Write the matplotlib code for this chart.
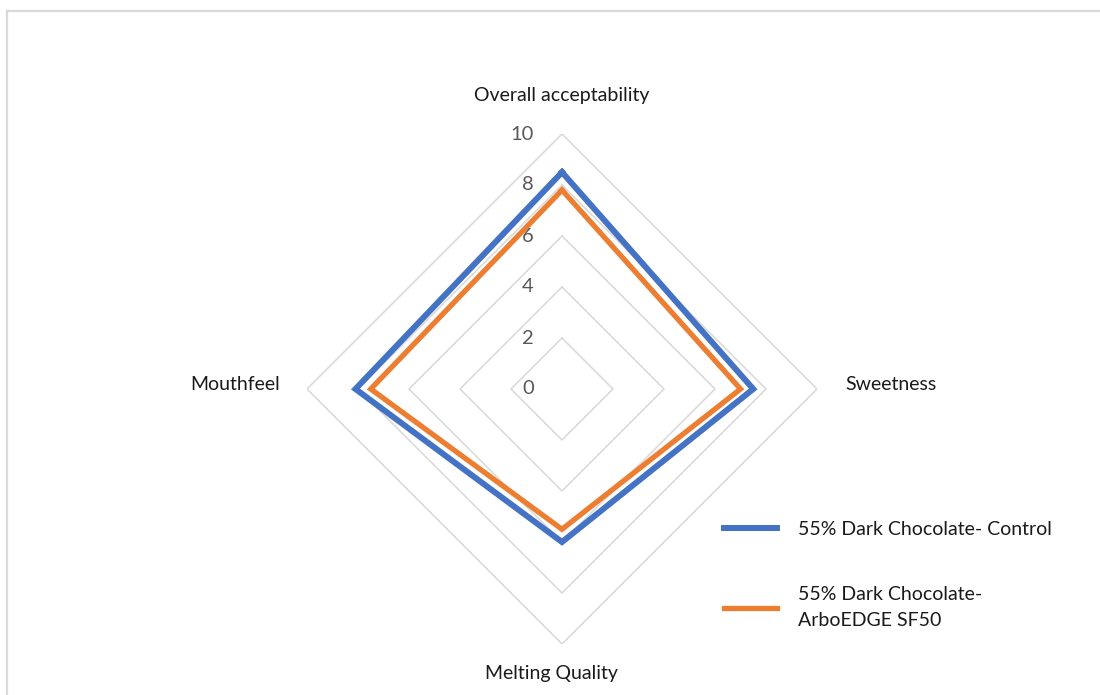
import numpy as np
import matplotlib.pyplot as plt
from matplotlib.lines import Line2D

plt.rcParams['font.family'] = ['Lato', 'DejaVu Sans']

# sensory scores (0-10 scale)
categories = ['Overall acceptability', 'Sweetness', 'Melting Quality', 'Mouthfeel']
control = [8.5, 7.5, 6.0, 8.1]
arboedge = [7.8, 7.0, 5.5, 7.5]
series_names = ['55% Dark Chocolate- Control', '55% Dark Chocolate-\nArboEDGE SF50']
ticks = [0, 2, 4, 6, 8, 10]

blue = '#4472C4'
orange = '#ED7D31'
grid_col = '#d9d9d9'

fig = plt.figure(figsize=(11, 6.95), dpi=100)
ax = fig.add_axes([307 / 1100, 1 - 644 / 695, 510 / 1100, 510 / 695], projection='polar')
ax.set_theta_zero_location('N')
ax.set_theta_direction(-1)
ax.set_ylim(0, 10)
ax.grid(False)
ax.set_xticks([])
ax.set_yticks([])
ax.spines['polar'].set_visible(False)

angles = np.linspace(0, 2 * np.pi, len(categories), endpoint=False)
closed = np.concatenate([angles, angles[:1]])

# diamond-shaped grid rings
for t in ticks[1:]:
    ax.plot(closed, [t] * len(closed), color=grid_col, lw=1.1, zorder=1)

# series
ax.plot(closed, control + control[:1], color=blue, lw=4.3, zorder=3,
        solid_joinstyle='miter', label=series_names[0])
ax.plot(closed, arboedge + arboedge[:1], color=orange, lw=3.8, zorder=3,
        solid_joinstyle='miter', label=series_names[1])

# radial tick labels
for t in ticks:
    ax.annotate(str(t), xy=(0, t), xytext=(-28, 0), textcoords='offset pixels',
                ha='right', va='center', fontsize=14.5, color='#595959')

# category labels
offsets = [(0, 38, 'center'), (28, 5, 'left'), (-11, -29, 'center'), (-27, 5, 'right')]
for ang, name, (dx, dy, ha) in zip(angles, categories, offsets):
    ax.annotate(name, xy=(ang, 10), xytext=(dx, dy), textcoords='offset pixels',
                ha=ha, va='center', fontsize=14, color='#1a1a1a')

leg = fig.legend(loc='upper left', bbox_to_anchor=(724 / 1100, 1 - 521 / 695),
                 frameon=False, fontsize=14, handlelength=2.75, handletextpad=1.05,
                 labelspacing=2.45, borderpad=0, borderaxespad=0)
for txt in leg.get_texts():
    txt.set_linespacing(1.7)
    txt.set_color('#1a1a1a')

# light frame on top and left edges
fig.add_artist(Line2D([7 / 1100, 1], [1 - 10.5 / 695] * 2, transform=fig.transFigure,
                      color=grid_col, lw=1.6))
fig.add_artist(Line2D([7 / 1100] * 2, [0, 1 - 10.5 / 695], transform=fig.transFigure,
                      color=grid_col, lw=1.6))

fig.savefig('out.png', dpi=100)
